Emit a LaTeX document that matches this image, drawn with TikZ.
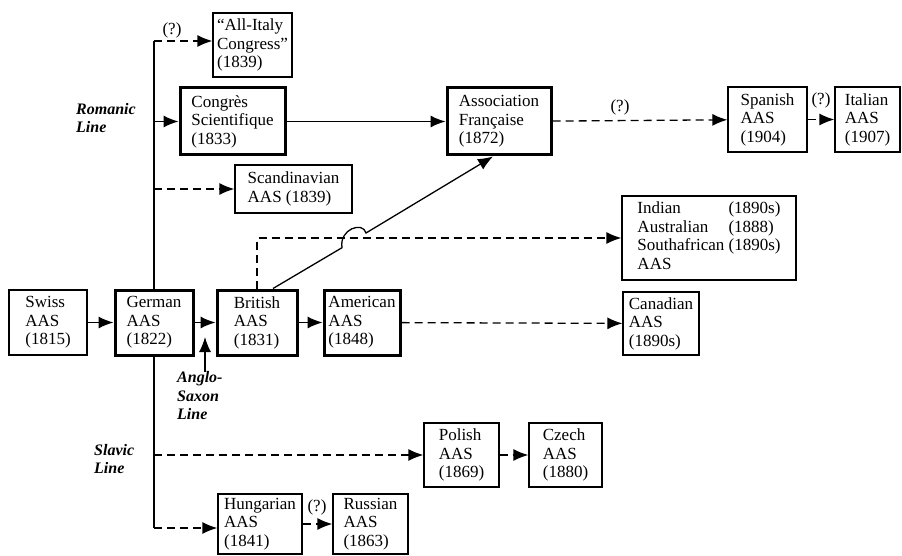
\documentclass[tikz,border=0pt]{standalone}
\usepackage{fontspec}
\setmainfont{Liberation Serif}
\usetikzlibrary{arrows.meta,calc}

\begin{document}
\begin{tikzpicture}[x=1pt,y=-1pt,
  every node/.style={font=\fontsize{17}{18.5}\selectfont},
  box/.style={draw, line width=1.3pt, align=left, inner sep=0pt},
  bigbox/.style={box, line width=3pt},
  lbl/.style={font=\fontsize{16}{18.5}\selectfont\bfseries\itshape, align=left, anchor=west, inner sep=0pt},
  qmark/.style={inner sep=0pt},
  >={Latex[length=15pt,width=12pt]},
  link/.style={line width=1.3pt, ->},
  maybe/.style={link, dash pattern=on 8pt off 5pt}]
  \useasboundingbox (0,0) rectangle (902,556);

  % Anglo-Saxon line
  \node[box, minimum width=78pt, minimum height=65pt] (swiss) at (48,322.5) {Swiss\\AAS\\(1815)};
  \node[bigbox, minimum width=78pt, minimum height=65pt] (german) at (154,322.5) {German\\AAS\\(1822)};
  \node[bigbox, minimum width=80pt, minimum height=65pt] (british) at (257,322.5) {British\\AAS\\(1831)};
  \node[bigbox, minimum width=76pt, minimum height=65pt] (american) at (362,322.5) {American\\AAS\\(1848)};
  \node[box, minimum width=76pt, minimum height=63pt] (canadian) at (661,323.5) {Canadian\\AAS\\(1890s)};
  \node[box, minimum width=174pt, minimum height=84pt] (commonwealth) at (709,238)
    {\begin{tabular}{@{}l@{\ }l@{}}Indian & (1890s)\\Australian & (1888)\\Southafrican & (1890s)\\AAS &\end{tabular}};

  % Romanic line
  \node[box, minimum width=79pt, minimum height=64pt] (allitaly) at (252.5,45) {``All-Italy\\Congress''\\(1839)};
  \node[bigbox, minimum width=105pt, minimum height=67pt] (congres) at (232.5,121.5) {Congrès\\Scientifique\\(1833)};
  \node[box, minimum width=117pt, minimum height=48pt] (scandinavian) at (293.5,189) {Scandinavian\\AAS (1839)};
  \node[bigbox, minimum width=104pt, minimum height=67pt] (francaise) at (499,121.5) {Association\\Française\\(1872)};
  \node[box, minimum width=79pt, minimum height=65pt] (spanish) at (767.5,119.5) {Spanish\\AAS\\(1904)};
  \node[box, minimum width=65pt, minimum height=65pt] (italian) at (867.5,119.5) {Italian\\AAS\\(1907)};

  % Slavic line
  \node[box, minimum width=75pt, minimum height=64pt] (polish) at (461.5,455) {Polish\\AAS\\(1869)};
  \node[box, minimum width=73pt, minimum height=64pt] (czech) at (565.5,455) {Czech\\AAS\\(1880)};
  \node[box, minimum width=84pt, minimum height=60pt] (hungarian) at (260,524) {Hungarian\\AAS\\(1841)};
  \node[box, minimum width=75pt, minimum height=60pt] (russian) at (370.5,524) {Russian\\AAS\\(1863)};

  \node[lbl] (romanic) at (76,118) {Romanic\\Line};
  \node[lbl] (slavic) at (94,459) {Slavic\\Line};
  \node[lbl] (anglo) at (177,396) {Anglo-\\Saxon\\Line};

  \node[qmark] (q1) at (172,30) {(?)};
  \node[qmark] (q2) at (620,107) {(?)};
  \node[qmark] (q3) at (821,100) {(?)};
  \node[qmark] (q4) at (317,507) {(?)};

  \coordinate (trunktop) at (154,41);
  \coordinate (trunkbot) at (154,528);
  \coordinate (angloTip) at (205,337);
  \coordinate (hopA) at (342,247.7);
  \coordinate (hopB) at (366,233);

  \draw[line width=1.3pt] (german.north) -- (trunktop);
  \draw[line width=1.3pt] (german.south) -- (trunkbot);
  \draw[maybe] (trunktop) -- (trunktop -| allitaly.west);
  \draw[link] (congres.west -| german) -- (congres.west);
  \draw[maybe] (scandinavian.west -| german) -- (scandinavian.west);
  \draw[maybe] (polish.west -| german) -- (polish.west);
  \draw[maybe] (trunkbot) -- (trunkbot -| hungarian.west);
  \draw[maybe] (british.north) |- (commonwealth.west);
  \draw[link] ($(british.north)+(16,0)$) -- (hopA)
    .. controls (339,229) and (363,221) .. (hopB) -- ($(francaise.south)+(-6,0)$);
  \draw[link] (anglo.north -| angloTip) -- (angloTip);

  \path[link]
  (swiss) edge (german)
  (german) edge (british)
  (british) edge (american)
  (congres) edge (francaise)
          ;
  \path[maybe]
  (american) edge (canadian)
  (francaise) edge (spanish)
  (spanish) edge (italian)
  (polish) edge (czech)
  (hungarian) edge (russian)
          ;
\end{tikzpicture}
\end{document}
